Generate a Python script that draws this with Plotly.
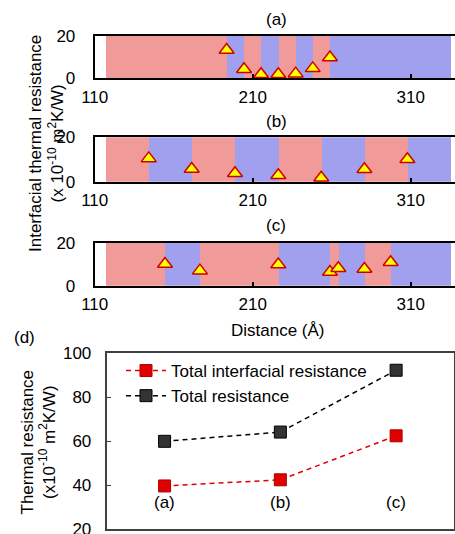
import plotly.graph_objects as go

# ---------------- data ----------------
band_edges_a = [117, 193.5, 204.5, 215.3, 226.2, 237.2, 248.0, 258.9, 335.5]
band_edges_b = [117, 144.2, 171.4, 198.8, 226.2, 253.4, 280.7, 307.9, 335.5]
band_edges_c = [117, 154.5, 176.6, 226.2, 258.9, 264.2, 280.7, 297.3, 335.5]

res_a = [13.4, 4.3, 1.9, 1.9, 2.2, 4.7, 9.8]
res_b = [10.5, 5.7, 3.8, 2.9, 1.8, 5.6, 10.1]
res_c = [10.1, 7.0, 9.9, 6.4, 8.1, 7.8, 10.9]

x_ticks_top = [110, 210, 310]
y_ticks_top = [0, 20]

cases = ["(a)", "(b)", "(c)"]
case_pos = [0.5, 1.5, 2.5]
total_interfacial = [39.7, 42.5, 62.5]
total_resistance = [60.0, 64.2, 92.3]
y_ticks_d = [20, 40, 60, 80, 100]

# ---------------- style ----------------
W, H = 455, 534
FONT = "Arial, Liberation Sans, sans-serif"
RED_BAND = "rgba(240,145,145,0.92)"
BLUE_BAND = "rgba(152,152,238,0.92)"

def px(x):
    return x / W

def py(y):
    return 1 - y / H

fig = go.Figure()

panels = [
    ("x", "y", band_edges_a, res_a, (36.0, 78.3)),
    ("x2", "y2", band_edges_b, res_b, (137.3, 181.7)),
    ("x3", "y3", band_edges_c, res_c, (242.7, 285.7)),
]

for xa, ya, edges, res, _ in panels:
    centers = [(edges[i] + edges[i + 1]) / 2 for i in range(len(edges) - 1)]
    widths = [edges[i + 1] - edges[i] for i in range(len(edges) - 1)]
    cols = [RED_BAND if i % 2 == 0 else BLUE_BAND for i in range(len(centers))]
    fig.add_trace(go.Bar(
        x=centers, y=[21.6] * len(centers), base=-0.8, width=widths,
        marker=dict(color=cols, line=dict(width=0)),
        xaxis=xa, yaxis=ya, showlegend=False, cliponaxis=False, hoverinfo="skip",
    ))
    fig.add_trace(go.Scatter(
        x=edges[1:-1], y=res, mode="markers",
        marker=dict(symbol="triangle-up", size=13, color="#FFFF00",
                    line=dict(color="#D00000", width=1.5)),
        xaxis=xa, yaxis=ya, showlegend=False, cliponaxis=False,
    ))

fig.add_trace(go.Scatter(
    x=case_pos, y=total_interfacial, mode="lines+markers",
    name="Total interfacial resistance",
    line=dict(color="#E00000", width=1.5, dash="5px,4px"),
    marker=dict(symbol="square", size=12, color="#E00000",
                line=dict(color="#B00000", width=1)),
    xaxis="x4", yaxis="y4", cliponaxis=False,
))
fig.add_trace(go.Scatter(
    x=case_pos, y=total_resistance, mode="lines+markers",
    name="Total resistance",
    line=dict(color="#000000", width=1.5, dash="5px,4px"),
    marker=dict(symbol="square", size=12, color="#333333",
                line=dict(color="#000000", width=1)),
    xaxis="x4", yaxis="y4", cliponaxis=False,
))

tfont = dict(family=FONT, size=17, color="#000000")

layout = dict(
    width=W, height=H,
    margin=dict(l=0, r=0, t=0, b=0, autoexpand=False),
    paper_bgcolor="white", plot_bgcolor="white",
    font=tfont,
    barmode="overlay", bargap=0,
    showlegend=True,
    legend=dict(x=px(121), y=py(353), xanchor="left", yanchor="top",
                bgcolor="rgba(0,0,0,0)", font=tfont, tracegroupgap=0,
                itemwidth=40),
)

x_dom_top = [px(94.7), 1.0]
for i, (xa, ya, edges, res, (top, bot)) in enumerate(panels):
    xk = "xaxis" if i == 0 else f"xaxis{i + 1}"
    yk = "yaxis" if i == 0 else f"yaxis{i + 1}"
    layout[xk] = dict(
        domain=x_dom_top, range=[110, 110 + (455 - 94.7) / 1.58],
        anchor=ya, tickvals=x_ticks_top, ticks="inside", ticklen=4,
        tickwidth=1.5, tickcolor="#000", showline=True, mirror=True,
        linecolor="#000", linewidth=2, showgrid=False, zeroline=False,
        tickfont=tfont, ticklabelstandoff=2, automargin=False,
        ticklabeloverflow="allow",
    )
    layout[yk] = dict(
        domain=[py(bot), py(top)], range=[0, 20], anchor=xa,
        tickvals=y_ticks_top, ticks="", showline=True, mirror=False,
        linecolor="#000", linewidth=2, showgrid=False, zeroline=False,
        tickfont=tfont, ticklabelstandoff=14, automargin=False,
        ticklabeloverflow="allow",
    )

layout["xaxis4"] = dict(
    domain=[px(106.7), px(454)], range=[0, 3], anchor="y4",
    showticklabels=False, ticks="", showline=True, mirror=True,
    linecolor="#404040", linewidth=2, showgrid=False, zeroline=False,
    automargin=False,
)
layout["yaxis4"] = dict(
    domain=[py(529.3), py(353.3)], range=[20, 100], anchor="x4",
    tickvals=y_ticks_d, ticks="inside", ticklen=4, tickcolor="#404040",
    showline=True, mirror=True, linecolor="#404040", linewidth=2,
    showgrid=False, zeroline=False, tickfont=tfont, ticklabelstandoff=10,
    automargin=False, ticklabeloverflow="allow",
)

def ann(text, x, y, **kw):
    d = dict(text=text, x=x, y=y, xref="paper", yref="paper", showarrow=False,
             font=tfont, xanchor="center", yanchor="middle")
    d.update(kw)
    return d

annotations = [
    ann("(a)", px(276), py(20)),
    ann("(b)", px(276), py(121)),
    ann("(c)", px(276), py(226)),
    ann("Distance (Å)", px(278), py(330)),
    ann("Interfacial thermal resistance<br>(x 10<sup>-10</sup> m<sup>2</sup>K/W)",
        px(46), py(144), textangle=-90),
    ann("(d)", px(24), py(337)),
    ann("Thermal resistance<br>(x10<sup>-10</sup> m<sup>2</sup>K/W)",
        px(37.5), py(442), textangle=-90),
]
for c, p in zip(cases, case_pos):
    annotations.append(dict(text=c, x=p, y=32, xref="x4", yref="y4", showarrow=False,
                            font=tfont, xanchor="center", yanchor="middle"))
layout["annotations"] = annotations

fig.update_layout(**layout)
fig.write_html(
    "out.html",
    config={"displayModeBar": False},
    post_script=(
        "document.body.style.margin='0';"
        "document.body.style.overflow='hidden';"
        "document.documentElement.style.overflow='hidden';"
    ),
)
